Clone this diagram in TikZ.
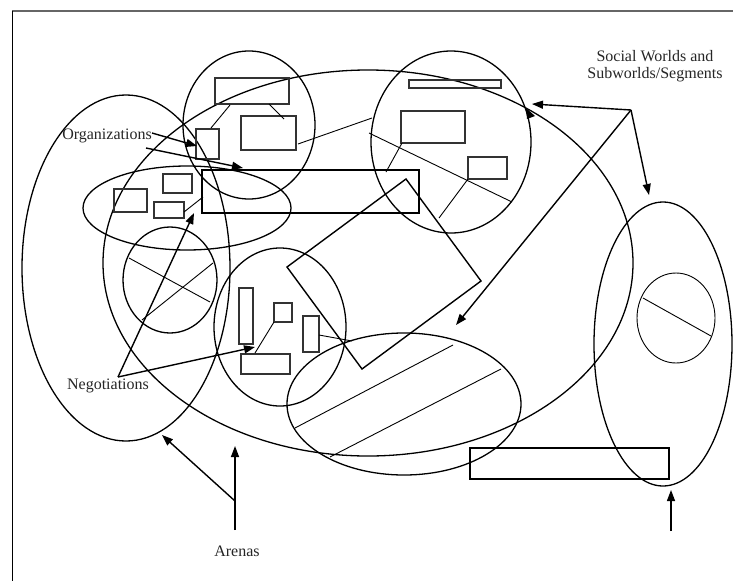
\documentclass[tikz,border=0pt]{standalone}
\usepackage{fontspec}
\setmainfont{Liberation Serif}
\usetikzlibrary{arrows.meta}
\begin{document}
\begin{tikzpicture}[x=1pt,y=-1pt,
  ring/.style={draw=black,line width=1.3pt},
  box/.style={draw=black!80,line width=1.1pt},
  bigbox/.style={draw=black,line width=1.4pt},
  inner/.style={draw=black,line width=0.9pt},
  arr/.style={draw=black,line width=1.4pt,-{Triangle[length=11pt,width=8pt]}},
  lbl/.style={font=\fontsize{16}{17}\selectfont,inner sep=0pt,text=black!85}]
\useasboundingbox (0,0) rectangle (733,581);
\fill[white] (0,0) rectangle (733,581);
% frame
\draw[black!60,line width=1.4pt] (12,11) -- (733,11);
\draw[black,line width=1.2pt] (12.5,11) -- (12.5,581);

% big arena ellipse
\draw[ring] (368,263) ellipse [x radius=265pt,y radius=193pt];
% left arena ellipse
\draw[ring] (126,268) ellipse [x radius=104pt,y radius=173pt];
% right tall ellipse
\draw[ring] (663,344) ellipse [x radius=69pt,y radius=142pt];
\draw[inner] (676,318) ellipse [x radius=39pt,y radius=45pt];
\draw[inner] (643,298) -- (711,336);

% top-left organisations circle
\draw[ring] (249,125) ellipse [x radius=66pt,y radius=74pt];
\draw[box] (215,78) rectangle (289,104);
\draw[box] (241,116) rectangle (296,150);
\draw[box] (196,129) rectangle (219,159);
\draw[inner] (230,105) -- (211,128);
\draw[inner] (269,104) -- (284,119);
\draw[inner] (298,144) -- (372,118);

% horizontal negotiation ellipse
\draw[ring] (187,208) ellipse [x radius=104pt,y radius=42pt];
\draw[box] (114,189) rectangle (147,212);
\draw[box] (163,174) rectangle (192,193);
\draw[box] (154,202) rectangle (184,218);
\draw[inner] (184,212) -- (203,197);
\draw[bigbox] (202,170) rectangle (419,213);

% small crossed circle
\draw[ring] (170,280) ellipse [x radius=47pt,y radius=53pt];
\draw[inner] (129,258) -- (210,302);
\draw[inner] (213,263) -- (142,320);

% upper right circle
\draw[ring] (451,142) ellipse [x radius=80pt,y radius=91pt];
\draw[box] (409,80) rectangle (501,88);
\draw[box] (401,111) rectangle (465,143);
\draw[box] (468,157) rectangle (507,179);
\draw[inner] (369,133) -- (512,202);
\draw[inner] (402,143) -- (386,172);
\draw[inner] (468,179) -- (439,218);

% rotated rectangle
\draw[bigbox] (406,179) -- (481,281) -- (362,369) -- (287,267) -- cycle;

% lower middle circle
\draw[ring] (280,327) ellipse [x radius=66pt,y radius=79pt];
\draw[box] (239,288) rectangle (253,344);
\draw[box] (274,303) rectangle (292,322);
\draw[box] (303,316) rectangle (319,352);
\draw[box] (241,354) rectangle (290,374);
\draw[inner] (274,322) -- (255,353);
\draw[inner] (319,335) -- (352,341);

% lower striped ellipse
\draw[ring] (404,404) ellipse [x radius=117pt,y radius=71pt];
\draw[inner] (295,428) -- (453,345);
\draw[inner] (330,457) -- (501,369);

% bottom rectangle
\draw[bigbox] (470,448) rectangle (669,479);

% labels
\node[lbl] (org) at (107,136) {Organizations};
\node[lbl] (neg) at (108,386) {Negotiations};
\node[lbl] (are) at (237,551) {Arenas};
\node[lbl,align=center] (sw) at (655,66) {Social Worlds and\\Subworlds/Segments};

% arrow anchor points
\coordinate (orgA) at (152,133);
\coordinate (orgB) at (146,148);
\coordinate (orgT1) at (197,146);
\coordinate (orgT2) at (243,168);
\coordinate (negO) at (118,377);
\coordinate (negT1) at (194,213);
\coordinate (negT2) at (255,347);
\coordinate (swO) at (631,110);
\coordinate (swT1) at (532,104);
\coordinate (swT2) at (649,195);
\coordinate (swT3) at (456,325);
\coordinate (arO) at (235,501);
\coordinate (arS) at (235,530);
\coordinate (arT1) at (162,435);
\coordinate (arT2) at (235,446);
\coordinate (rS) at (671,531);
\coordinate (rT) at (671,490);

\draw[arr] (orgA) -- (orgT1);
\draw[arr] (orgB) -- (orgT2);
\draw[arr] (negO) -- (negT1);
\draw[arr] (negO) -- (negT2);
\draw[arr] (swO) -- (swT1);
\draw[arr] (swO) -- (swT2);
\draw[arr] (swO) -- (swT3);
\draw[arr] (arO) -- (arT1);
\draw[arr] (arS) -- (arT2);
\draw[arr] (rS) -- (rT);
% stray arrowhead at circle/ellipse crossing
\fill[black] (526,108) -- (535,116) -- (527,119) -- cycle;
\end{tikzpicture}
\end{document}
